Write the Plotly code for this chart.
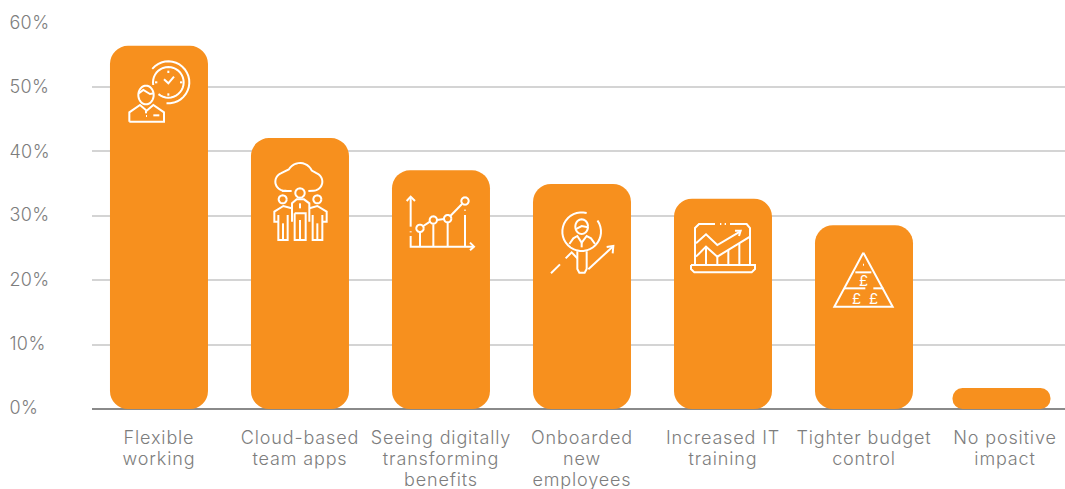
import math
import plotly.graph_objects as go

categories = ["Flexible<br>working", "Cloud-based<br>team apps", "Seeing digitally<br>transforming<br>benefits",
              "Onboarded<br>new<br>employees", "Increased IT<br>training", "Tighter budget<br>control", "No positive<br>impact"]
values = [56.3, 42.0, 37.0, 34.9, 32.6, 28.5, 3.25]
y_ticks = [0, 10, 20, 30, 40, 50, 60]
ORANGE = "#F7901E"
GREY = "#7d7d7d"
W, H = 1065, 489
FONT = "Inter"
BAR_W = 0.695
last_nudge = -0.025
offsets = [-BAR_W / 2] * 6 + [-BAR_W / 2 + last_nudge]

fig = go.Figure()
# An explicit base makes Plotly round both ends of each bar.
fig.add_bar(x=categories, y=values, base=[0] * len(values), width=BAR_W, offset=offsets, marker=dict(color=ORANGE, line_width=0), showlegend=False)


def px(p):
    return p[0] / W, 1 - p[1] / H


def poly(pts, close=False):
    s = ""
    for i, p in enumerate(pts):
        x, y = px(p)
        s += ("M" if i == 0 else "L") + f"{x:.5f},{y:.5f} "
    return s + ("Z " if close else "")


def arc(cx, cy, r, a0=0, a1=360, ry=None):
    ry = ry or r
    n = max(6, int(abs(a1 - a0) / 10))
    return [(cx + r * math.cos(math.radians(a0 + (a1 - a0) * i / n)), cy + ry * math.sin(math.radians(a0 + (a1 - a0) * i / n))) for i in range(n + 1)]


def z(ox, oy, pts):
    return [(ox + a / 3, oy + b / 3) for a, b in pts]


def zarc(ox, oy, cx, cy, r, a0=0, a1=360, ry=None):
    return arc(ox + cx / 3, oy + cy / 3, r / 3, a0, a1, (ry / 3) if ry else None)


icons = []
# flexible working
o = (100, 40)
icons = [zarc(*o, 205, 127, 46, -190, 130), zarc(*o, 205, 127, 63, -140, 95)]
icons += [z(*o, s) for s in ([(192, 118), (205, 130), (222, 110)], [(205, 92), (205, 99)], [(240, 127), (247, 127)], [(205, 160), (205, 167)], [(165, 127), (172, 127)],
                             [(88, 245), (88, 217), (120, 195), (140, 212), (160, 195), (192, 217), (192, 245), (88, 245)],
                             [(138, 212), (138, 220)], [(138, 228), (141, 228)], [(160, 226), (178, 226)],
                             [(116, 160), (130, 150), (150, 162), (162, 160)])]
icons += [zarc(*o, 138, 165, 23, 0, 360, 28)]
# cloud team
icons += [z(*o, [(575, 453), (552, 453)]) + zarc(*o, 553, 425, 27, 90, 250) + zarc(*o, 600, 408, 39, -150, -25) + zarc(*o, 640, 425, 27, -70, 90) + z(*o, [(625, 453)])]
icons += [zarc(*o, 600, 459, 14), zarc(*o, 548, 478, 12), zarc(*o, 652, 478, 12)]
icons += [z(*o, s) for s in ([(576, 545), (576, 490), (590, 478), (612, 478), (628, 490), (628, 545)],
                             [(584, 520), (584, 600), (617, 600), (617, 520), (584, 520)], [(600, 540), (600, 600)], [(600, 490), (600, 505)],
                             [(575, 505), (550, 498), (523, 515), (523, 545), (535, 545)], [(535, 525), (535, 600), (563, 600), (563, 525)], [(549, 550), (549, 600)],
                             [(628, 505), (652, 498), (680, 515), (680, 545), (667, 545)], [(638, 525), (638, 600), (667, 600), (667, 525)], [(652, 550), (652, 600)])]
# chart
o = (390, 170)
icons += [z(*o, s) for s in ([(62, 170), (62, 82)], [(50, 93), (62, 80), (75, 93)], [(62, 184), (62, 187)], [(62, 198), (62, 230), (250, 230)],
                             [(240, 218), (252, 230), (240, 241)], [(90, 188), (90, 230)], [(130, 163), (130, 230)], [(173, 158), (173, 230)], [(225, 135), (225, 230)],
                             [(225, 119), (225, 122)], [(100, 168), (120, 155)], [(141, 150), (162, 147)], [(181, 138), (216, 102)])]
for c in [(90, 175), (130, 150), (173, 146), (225, 93)]:
    icons.append(zarc(*o, c[0], c[1], 11))
# magnifier
icons += [zarc(*o, 575, 185, 58, -35, 285)]
icons += [zarc(*o, 575, 170, 19, 0, 360, 22)]
icons += [z(*o, s) for s in ([(538, 222), (550, 205), (562, 198), (575, 218), (590, 198), (603, 205), (615, 222)],
                             [(575, 218), (575, 232)], [(556, 178), (575, 168), (594, 172)],
                             [(562, 244), (562, 297), (568, 308), (584, 308), (590, 297), (590, 244)],
                             [(483, 310), (510, 283)], [(527, 265), (545, 247), (562, 265)], [(595, 298), (668, 230)], [(650, 231), (670, 228), (668, 250)])]
# laptop
o = (670, 200)
icons += [z(*o, s) for s in ([(75, 195), (75, 84), (87, 72), (135, 72)], [(150, 72), (154, 72)], [(164, 72), (168, 72)], [(180, 72), (230, 72), (240, 84), (240, 195)],
                             [(63, 195), (255, 195), (255, 207), (245, 217), (73, 217), (63, 207), (63, 195)],
                             [(78, 130), (108, 103), (142, 135), (210, 95)], [(195, 92), (212, 92), (207, 108)],
                             [(78, 170), (108, 140), (142, 170), (240, 110)],
                             [(108, 140), (108, 195)], [(142, 170), (142, 195)], [(175, 150), (175, 195)], [(208, 130), (208, 195)])]
# pyramid
icons += [z(*o, s) for s in ([(580, 158), (668, 320), (493, 320), (580, 158)], [(556, 217), (604, 217)], [(522, 265), (586, 265)], [(610, 265), (640, 265)], [(579, 194), (582, 194)])]

shapes = [dict(type="path", xref="paper", yref="paper", path=poly(s), line=dict(color="white", width=2), layer="above") for s in icons]

annotations = [dict(text=f"{t}%", xref="paper", yref="y", x=7.5 / W, y=t, xanchor="left", yanchor="middle", showarrow=False,
                    yshift=2 if t == 0 else (1 if t <= 30 else 0),
                    font=dict(family=FONT, size=18, color=GREY, weight=300)) for t in y_ticks]
for (a, b) in [(863, 280), (856, 298), (873, 298)]:
    annotations.append(dict(text="£", xref="paper", yref="paper", x=a / W, y=1 - b / H, xanchor="center", yanchor="middle", showarrow=False,
                            font=dict(family=FONT, size=15, color="white")))

fig.update_layout(
    width=W, height=H, autosize=False, barcornerradius=18,
    margin=dict(l=0, r=0, t=0, b=0, autoexpand=False), paper_bgcolor="white", plot_bgcolor="white",
    shapes=shapes, annotations=annotations, showlegend=False,
    font=dict(family=FONT, color=GREY),
    xaxis=dict(domain=[92 / W, 1], type="category", range=[-0.475, 6.4255], showgrid=False, zeroline=False, showline=False, automargin=False,
               ticks="", tickangle=0, ticklabelstandoff=16, tickfont=dict(family=FONT, size=18, color=GREY, weight=300)),
    yaxis=dict(domain=[1 - 409 / H, 1 - 22 / H], range=[0, 60], tickvals=y_ticks, showticklabels=False, showgrid=True, gridcolor="#d4d4d4", gridwidth=1.5,
               zeroline=True, zerolinecolor="#8a8a8a", zerolinewidth=1.6, showline=False, ticks="", automargin=False),
)
post = """
document.body.style.margin='0';
document.body.style.overflow='hidden';
document.querySelectorAll('.xtick text').forEach(function(t){
  t.style.letterSpacing='0.85px';
  t.querySelectorAll('tspan.line').forEach(function(s,i){ s.setAttribute('dy',(i*1.17)+'em'); });
});
document.querySelectorAll('.annotation-text').forEach(function(t){
  if (t.textContent.indexOf('%')>=0) { t.style.letterSpacing='0.4px'; }
});
"""
fig.write_html("out.html", post_script=post, config=dict(displayModeBar=False))
